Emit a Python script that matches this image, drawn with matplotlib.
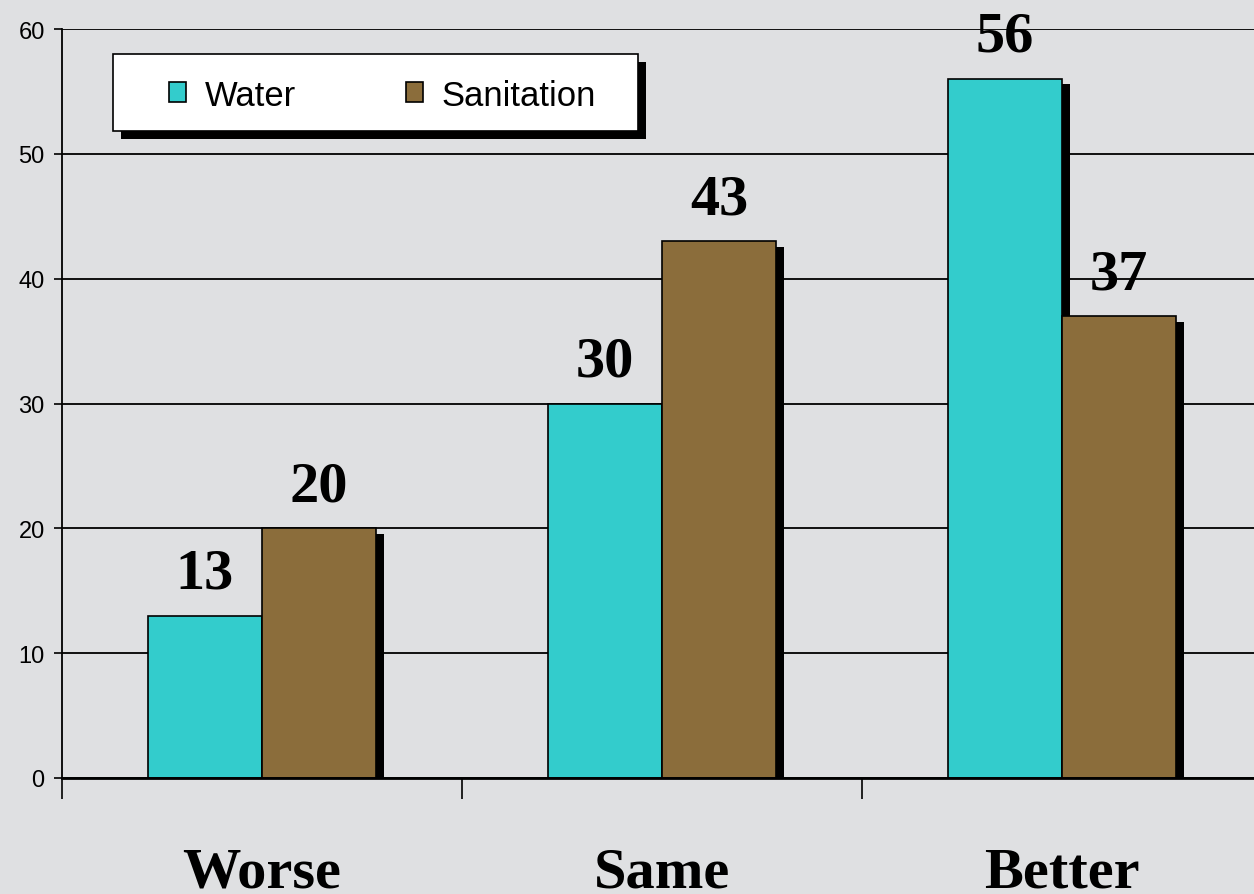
import matplotlib
matplotlib.use("Agg")
import matplotlib.pyplot as plt
import matplotlib.patheffects as pe
from matplotlib.patches import Rectangle
import numpy as np

# data
categories = ["Worse", "Same", "Better"]
water = [13, 30, 56]
sanitation = [20, 43, 37]

plt.rcParams['font.family'] = ['Liberation Sans', 'DejaVu Sans']

W, H = 1254, 895
fig = plt.figure(figsize=(W / 100, H / 100), dpi=100)
fig.patch.set_facecolor('#dfe0e2')

# axes extends past the right edge like the original slide
ax = fig.add_axes([62 / W, (H - 779) / H, 1200 / W, 749 / H])
ax.set_facecolor('none')

x = np.arange(len(categories))
bw = 0.2857
b1 = ax.bar(x - bw / 2, water, bw, color='#33cccc', edgecolor='black', linewidth=1.2, label='Water', zorder=2)
b2 = ax.bar(x + bw / 2, sanitation, bw, color='#8b6d3b', edgecolor='black', linewidth=1.2, label='Sanitation', zorder=2)

# legend box drawn by hand so the padding matches, legend entries on top
box = Rectangle((113 / W, (H - 132) / H), 525 / W, 77 / H, transform=fig.transFigure,
                facecolor='white', edgecolor='black', linewidth=1.2, clip_on=False, zorder=4)
box.set_path_effects([pe.SimplePatchShadow(offset=(5.5, -5.5), shadow_rgbFace='black', alpha=1), pe.Normal()])
ax.add_patch(box)

leg = ax.legend(loc='center left', bbox_to_anchor=(169 / W, (H - 96) / H),
                bbox_transform=fig.transFigure,
                ncol=2, fontsize=24.9, frameon=False,
                handlelength=0.5, handleheight=0.5, handletextpad=0.55,
                columnspacing=3.15, borderpad=0, borderaxespad=0)
leg.set_zorder(5)
for h in leg.legend_handles:
    h.set_linewidth(1.2)

# black drop shadows on the bars
shadow = [pe.SimplePatchShadow(offset=(5.8, -4), shadow_rgbFace='black', alpha=1), pe.Normal()]
for b in list(b1) + list(b2):
    b.set_path_effects(shadow)

# value labels
for xi, v in zip(x - bw / 2, water):
    ax.text(xi, v + 2.25, str(v), ha='center', va='baseline', fontsize=42,
            fontweight='bold', family='Liberation Serif', zorder=3)
for xi, v in zip(x + bw / 2, sanitation):
    ax.text(xi, v + 2.25, str(v), ha='center', va='baseline', fontsize=42,
            fontweight='bold', family='Liberation Serif', zorder=3)

# category labels under the groups
for xi, c in zip(x, categories):
    ax.text(xi, -8.73, c, ha='center', va='baseline', fontsize=42,
            fontweight='bold', family='Liberation Serif', clip_on=False)

ax.set_xlim(-0.5, 2.5)
ax.set_ylim(0, 60)
ax.set_yticks(range(0, 61, 10))
ax.set_xticks([-0.5, 0.5, 1.5, 2.5])
ax.set_xticklabels([])
ax.tick_params(axis='x', length=15, width=1.2, direction='out', color='black')
ax.tick_params(axis='y', length=5.5, width=1.2, labelsize=17, pad=7)
ax.yaxis.grid(True, color='black', linewidth=1.3)
ax.set_axisbelow(True)

for s in ['top', 'right']:
    ax.spines[s].set_visible(False)
ax.spines['left'].set_linewidth(1.3)
ax.spines['bottom'].set_linewidth(2)
ax.spines['bottom'].set_zorder(2.5)

fig.savefig('out.png', dpi=100, facecolor=fig.get_facecolor())
